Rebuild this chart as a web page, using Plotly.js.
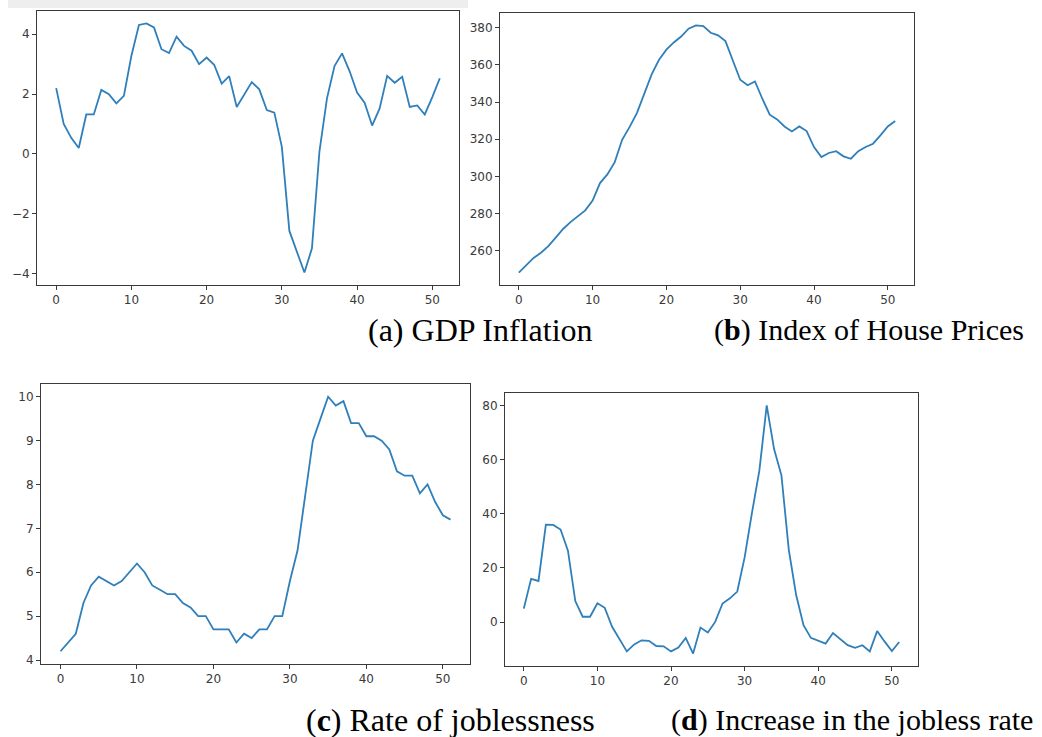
<!DOCTYPE html>
<html>
<head>
<meta charset="utf-8">
<script src="https://cdn.plot.ly/plotly-3.0.1.min.js"></script>
<style>
  html, body { margin: 0; padding: 0; background: #ffffff; }
  #chart { width: 1042px; height: 737px; }
</style>
</head>
<body>
<div id="chart"></div>
<script>
// Quarter index shared by all four panels
const quarters = Array.from({length: 52}, (_, i) => i);

// (a) GDP inflation, %
const gdpInflation = [
  2.2, 1.0, 0.54, 0.2, 1.32, 1.32, 2.14, 2.0, 1.69, 1.94,
  3.28, 4.31, 4.36, 4.23, 3.5, 3.37, 3.92, 3.61, 3.45, 3.0,
  3.22, 2.98, 2.35, 2.6, 1.57, 2.0, 2.4, 2.16, 1.47, 1.38,
  0.24, -2.57, -3.27, -3.96, -3.15, 0.09, 1.86, 2.94, 3.36, 2.77,
  2.05, 1.71, 0.95, 1.52, 2.61, 2.38, 2.58, 1.57, 1.62, 1.32,
  1.9, 2.53
];

// (b) Index of house prices
const housePrices = [
  248.2, 252.1, 256.1, 258.9, 262.5, 267.0, 271.7, 275.4, 278.5, 281.7,
  287.0, 296.4, 301.1, 307.7, 319.7, 326.5, 334.1, 344.5, 354.9, 362.8,
  368.2, 372.1, 375.3, 379.5, 381.3, 380.9, 377.3, 375.9, 372.8, 362.4,
  352.0, 349.1, 351.1, 341.8, 333.2, 330.7, 326.9, 324.2, 326.9, 324.4,
  315.8, 310.4, 312.6, 313.6, 310.8, 309.5, 313.6, 315.8, 317.6, 322.1,
  326.9, 329.8
];

// (c) Rate of joblessness, %
const joblessRate = [
  4.2, 4.4, 4.6, 5.3, 5.7, 5.9, 5.8, 5.7, 5.8, 6.0,
  6.2, 6.0, 5.7, 5.6, 5.5, 5.5, 5.3, 5.2, 5.0, 5.0,
  4.7, 4.7, 4.7, 4.4, 4.6, 4.5, 4.7, 4.7, 5.0, 5.0,
  5.8, 6.5, 7.8, 9.0, 9.5, 10.0, 9.8, 9.9, 9.4, 9.4,
  9.1, 9.1, 9.0, 8.8, 8.3, 8.2, 8.2, 7.8, 8.0, 7.6,
  7.3, 7.2
];

// (d) Increase in the jobless rate, %
const joblessIncrease = [
  5.0, 16.0, 15.2, 36.0, 35.9, 34.2, 26.4, 7.8, 2.0, 2.0,
  7.0, 5.3, -1.7, -6.3, -10.8, -8.2, -6.7, -6.9, -8.8, -8.9,
  -10.8, -9.4, -5.8, -11.6, -2.0, -3.8, 0.1, 6.9, 8.8, 11.3,
  23.9, 40.4, 55.9, 80.0, 63.9, 54.2, 26.7, 10.0, -1.1, -5.8,
  -6.9, -7.9, -4.0, -6.1, -8.5, -9.5, -8.5, -10.8, -3.3, -7.1,
  -10.7, -7.3
];

// Tick steps on the value axes
const yTickSteps = [2, 20, 1, 20];

// Panel captions
const captions = [
  "(a) GDP Inflation",
  "(<b>b</b>) Index of House Prices",
  "(<b>c</b>) Rate of joblessness",
  "(<b>d</b>) Increase in the jobless rate"
];

const W = 1042, H = 737;
const px = v => v / W;
const py = v => 1 - v / H;

// Plot frames in pixels: [left, top, right, bottom]
const frames = [
  [37, 11, 459, 285],
  [500, 13, 914, 285],
  [41, 384, 470, 664],
  [505, 393, 918, 666]
];
// Caption anchors in pixels: [left, vertical middle] and font size
const captionPos = [
  [366, 330], [712, 330], [304, 720], [669, 720]
];
const captionSize = [32, 30, 32, 30];

const series = [gdpInflation, housePrices, joblessRate, joblessIncrease];

// Matplotlib-style 5% padding around the data
function padded(arr) {
  const lo = Math.min(...arr), hi = Math.max(...arr);
  const p = (hi - lo) * 0.05;
  return [lo - p, hi + p];
}

const axisFont = {family: "DejaVu Sans", size: 12, color: "#3a3a3a"};
const axisCommon = {
  showgrid: false, zeroline: false,
  showline: true, mirror: true, linecolor: "#3a3a3a", linewidth: 1,
  ticks: "outside", ticklen: 4, tickwidth: 1, tickcolor: "#3a3a3a",
  tickfont: axisFont, fixedrange: true
};

const traces = [];
const layout = {
  width: W, height: H,
  margin: {l: 0, r: 0, t: 0, b: 0},
  paper_bgcolor: "#ffffff", plot_bgcolor: "#ffffff",
  showlegend: false,
  annotations: [],
  shapes: [
    // faint strip along the top edge of the upper-left panel
    {type: "rect", xref: "paper", yref: "paper",
     x0: px(8), x1: px(468), y0: py(8), y1: 1,
     fillcolor: "#eeeeee", line: {width: 0}, layer: "below"}
  ]
};

const xRange = padded(quarters);

series.forEach((ys, k) => {
  const n = k === 0 ? "" : String(k + 1);
  const [l, t, r, b] = frames[k];
  traces.push({
    x: quarters, y: ys, type: "scatter", mode: "lines",
    xaxis: "x" + n, yaxis: "y" + n,
    line: {color: "#2f7fba", width: 1.8},
    hoverinfo: "skip"
  });
  layout["xaxis" + n] = Object.assign({}, axisCommon, {
    domain: [px(l), px(r)], anchor: "y" + n,
    range: xRange, tickmode: "linear", tick0: 0, dtick: 10
  });
  layout["yaxis" + n] = Object.assign({}, axisCommon, {
    domain: [py(b), py(t)], anchor: "x" + n,
    range: padded(ys), tickmode: "linear", tick0: 0, dtick: yTickSteps[k]
  });
  layout.annotations.push({
    xref: "paper", yref: "paper",
    x: px(captionPos[k][0]), y: py(captionPos[k][1]),
    xanchor: "left", yanchor: "middle",
    text: captions[k], showarrow: false,
    font: {family: "Liberation Serif", size: captionSize[k], color: "#000"}
  });
});

Plotly.newPlot("chart", traces, layout, {staticPlot: true, displayModeBar: false});
</script>
</body>
</html>
